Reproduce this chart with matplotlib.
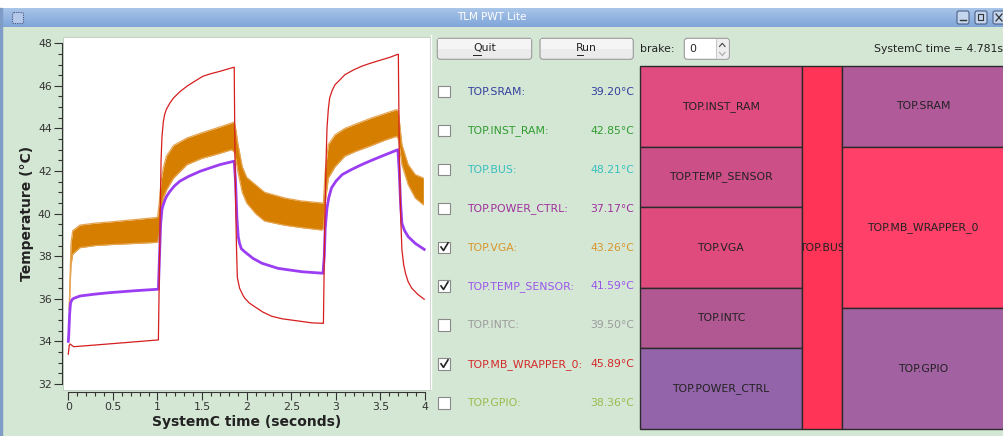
import matplotlib
matplotlib.use("Agg")
import matplotlib.pyplot as plt
import numpy as np
from matplotlib.patches import Rectangle, FancyBboxPatch
from matplotlib.ticker import MultipleLocator, FixedLocator, FixedFormatter

# ---------------- data ----------------
# TOP.MB_WRAPPER_0 (red)
mb_t = [0.0, 0.01, 0.02, 0.06, 0.3, 0.6, 1.01, 1.03, 1.04, 1.05, 1.065, 1.08, 1.10, 1.14, 1.18, 1.25, 1.33, 1.42,
        1.51, 1.60, 1.70, 1.855,
        1.86, 1.87, 1.885, 1.895, 1.92, 1.96, 1.98, 2.03, 2.09, 2.18, 2.28, 2.4, 2.54, 2.73, 2.855,
        2.86, 2.875, 2.89, 2.90, 2.915, 2.93, 2.96, 2.99, 3.05, 3.10, 3.20, 3.29, 3.38, 3.48, 3.6, 3.695,
        3.70, 3.71, 3.725, 3.74, 3.76, 3.78, 3.81, 3.85, 3.92, 3.99]
mb_v = [33.4, 33.8, 33.88, 33.75, 33.83, 33.93, 34.07, 40.0, 42.5, 43.6, 44.3, 44.65, 44.9, 45.2, 45.43, 45.72, 45.98, 46.22,
        46.45, 46.57, 46.68, 46.87,
        46.87, 42.0, 38.5, 37.0, 36.5, 36.15, 36.02, 35.8, 35.63, 35.38, 35.18, 35.06, 34.98, 34.87, 34.85,
        34.85, 39.5, 42.5, 44.0, 44.9, 45.43, 45.8, 46.05, 46.3, 46.52, 46.75, 46.92, 47.05, 47.18, 47.33, 47.48,
        47.48, 43.0, 40.0, 38.3, 37.6, 37.2, 36.8, 36.5, 36.2, 35.98]

# TOP.TEMP_SENSOR (purple)
ts_t = [0.0, 0.005, 0.015, 0.025, 0.04, 0.06, 0.13, 0.3, 0.47, 0.75, 1.01,
        1.02, 1.035, 1.05, 1.065, 1.08, 1.10, 1.14, 1.19, 1.25, 1.35, 1.48, 1.60, 1.70, 1.86,
        1.875, 1.89, 1.905, 1.92, 1.94, 1.98, 2.07, 2.17, 2.35, 2.62, 2.855,
        2.87, 2.88, 2.90, 2.92, 2.95, 3.0, 3.07, 3.18, 3.29, 3.40, 3.51, 3.695,
        3.71, 3.725, 3.74, 3.77, 3.81, 3.89, 3.99]
ts_v = [34.0, 34.3, 35.3, 35.8, 35.95, 36.02, 36.13, 36.22, 36.29, 36.38, 36.45,
        37.7, 39.5, 40.2, 40.42, 40.6, 40.8, 41.05, 41.3, 41.52, 41.75, 41.99, 42.16, 42.30, 42.46,
        41.5, 39.8, 38.92, 38.6, 38.35, 38.2, 37.9, 37.67, 37.43, 37.27, 37.2,
        38.0, 39.3, 40.26, 40.75, 41.2, 41.52, 41.83, 42.08, 42.3, 42.5, 42.69, 43.0,
        42.0, 40.5, 39.54, 39.2, 38.92, 38.6, 38.32]

# TOP.VGA (orange) – oscillating signal, lower/upper envelope
vga_t = [0.01, 0.03, 0.05, 0.13, 0.3, 0.5, 0.75, 1.0, 1.02, 1.04, 1.065, 1.10, 1.18, 1.33, 1.5, 1.65, 1.83,
         1.86, 1.88, 1.90, 1.95, 2.0, 2.1, 2.2, 2.43, 2.6, 2.84, 2.86, 2.88, 2.915, 2.99, 3.1, 3.22,
         3.4, 3.55, 3.68, 3.70, 3.72, 3.74, 3.81, 3.89, 3.98]
vga_hi = [35.5, 38.6, 39.2, 39.46, 39.55, 39.62, 39.72, 39.82, 40.5, 41.5, 42.14, 42.7, 43.2, 43.55, 43.8, 44.0, 44.25,
          44.3, 43.9, 43.3, 42.2, 41.7, 41.35, 41.0, 40.73, 40.6, 40.5, 40.5, 42.0, 43.24, 43.7, 44.0, 44.2,
          44.49, 44.7, 44.88, 44.8, 44.0, 43.24, 42.3, 41.83, 41.67]
vga_lo = [35.5, 37.6, 38.1, 38.4, 38.5, 38.55, 38.6, 38.65, 39.0, 40.0, 40.73, 41.1, 41.67, 42.3, 42.6, 42.77, 43.0,
          42.9, 42.5, 42.0, 41.0, 40.5, 40.0, 39.65, 39.45, 39.35, 39.23, 39.3, 40.5, 41.67, 42.2, 42.7, 42.92,
          43.2, 43.45, 43.63, 43.5, 42.9, 42.3, 41.36, 40.73, 40.42]

x_ticks = [0, 0.5, 1, 1.5, 2, 2.5, 3, 3.5, 4]
x_tick_labels = ["0", "0.5", "1", "1.5", "2", "2.5", "3", "3.5", "4"]
y_ticks = [32, 34, 36, 38, 40, 42, 44, 46, 48]
y_tick_labels = ["32", "34", "36", "38", "40", "42", "44", "46", "48"]

# component list
comp_names = ["TOP.SRAM:", "TOP.INST_RAM:", "TOP.BUS:", "TOP.POWER_CTRL:", "TOP.VGA:",
              "TOP.TEMP_SENSOR:", "TOP.INTC:", "TOP.MB_WRAPPER_0:", "TOP.GPIO:"]
comp_values = ["39.20°C", "42.85°C", "48.21°C", "37.17°C", "43.26°C",
               "41.59°C", "39.50°C", "45.89°C", "38.36°C"]
comp_colors = ["#33409e", "#2f9c2f", "#38c0c0", "#a0309e", "#d8962c",
               "#9a55ec", "#9c9c9c", "#d42a2a", "#9cbb4c"]
comp_checked = [False, False, False, False, True, True, False, True, False]

# treemap cells
tm_names = ["TOP.INST_RAM", "TOP.TEMP_SENSOR", "TOP.VGA", "TOP.INTC", "TOP.POWER_CTRL",
            "TOP.BUS", "TOP.SRAM", "TOP.MB_WRAPPER_0", "TOP.GPIO"]
tm_colors = ["#e04b80", "#cd4f88", "#e04b7e", "#b15792", "#9464aa",
             "#ff3457", "#b05a9a", "#ff4068", "#a261a1"]

# ---------------- layout (pixels) ----------------
W, H = 1004, 436
BG = "#d4e6d4"
FS = 7.8
fig = plt.figure(figsize=(W / 100, H / 100), dpi=100)
bg = fig.add_axes([0, 0, 1, 1])
bg.set_xlim(0, W)
bg.set_ylim(H, 0)
bg.axis("off")

bg.add_patch(Rectangle((0, 0), W, H, color="white", zorder=0))
bg.add_patch(Rectangle((0, 26.7), W, H - 26.7, color=BG, zorder=0))

# title bar gradient
grad = np.linspace(0, 1, 20)[:, None]
c_top = np.array([0.66, 0.77, 0.91])
c_bot = np.array([0.50, 0.65, 0.85])
img = c_top[None, None, :] * (1 - grad[:, :, None]) + c_bot[None, None, :] * grad[:, :, None]
img = np.repeat(img, 2, axis=1)
bg.imshow(img, extent=(0, W, 26.7, 8), aspect="auto", zorder=1, interpolation="bilinear")
bg.text(492, 17.5, "TLM PWT Lite", color="white", fontsize=7.5, ha="center", va="center", zorder=2)
bg.add_patch(Rectangle((0, 8), 2, H - 8, color="#7f9cc6", zorder=2))
bg.add_patch(FancyBboxPatch((12.5, 12.5), 11, 11, boxstyle="round,pad=0,rounding_size=1.5",
                            fc="#b4c9ea", ec="#4a5580", lw=0.8, ls=(0, (1, 1)), zorder=2))
for bx in (957, 975, 993):
    bg.add_patch(FancyBboxPatch((bx, 11), 12, 13, boxstyle="round,pad=0,rounding_size=2",
                                fc="#c4d6ee", ec="#4f5f85", lw=0.8, zorder=2))
bg.plot([960, 966], [20.5, 20.5], color="#333", lw=1, zorder=3)
bg.add_patch(Rectangle((978.5, 14.5), 5, 6, fc="none", ec="#333", lw=0.8, zorder=3))
bg.plot([996, 1002], [14, 21], color="#333", lw=0.9, zorder=3)
bg.plot([996, 1002], [21, 14], color="#333", lw=0.9, zorder=3)

# plot canvas frame and separator
bg.add_patch(Rectangle((63.5, 37.5), 367, 352, fc="white", ec="#c6cfc6", lw=0.7, zorder=1))
bg.plot([431.5, 431.5], [35, 389], color="white", lw=1, zorder=1)

# ---------------- the chart ----------------
x0px, xs = 68.3, 89.2
y0px, ys = 384.0, 21.3
L, R, T, B = 64, 430, 38, 389
ax = fig.add_axes([L / W, (H - B) / H, (R - L) / W, (B - T) / H])
ax.set_xlim((L - x0px) / xs, (R - x0px) / xs)
ax.set_ylim(32 + (y0px - B) / ys, 32 + (y0px - T) / ys)
ax.set_facecolor("white")

ax.fill_between(vga_t, vga_lo, vga_hi, color="#d67e00", lw=0, zorder=2)
ax.plot(vga_t, vga_hi, color="#e6a552", lw=0.9, zorder=2)
ax.plot(vga_t, vga_lo, color="#e6a552", lw=0.9, zorder=2)
ax.plot(ts_t, ts_v, color="#9b3df2", lw=2.0, zorder=3, solid_joinstyle="round")
ax.plot(mb_t, mb_v, color="#d61e1e", lw=0.9, zorder=4)

for s in ("top", "right"):
    ax.spines[s].set_visible(False)
ax.spines["left"].set_position(("outward", 1.5))
ax.spines["bottom"].set_position(("outward", 2.2))
ax.spines["left"].set_bounds(32, 48)
ax.spines["bottom"].set_bounds(0, 4)
for s in ("left", "bottom"):
    ax.spines[s].set_color("#333333")
    ax.spines[s].set_linewidth(0.8)

ax.xaxis.set_major_locator(FixedLocator(x_ticks))
ax.xaxis.set_major_formatter(FixedFormatter(x_tick_labels))
ax.yaxis.set_major_locator(FixedLocator(y_ticks))
ax.yaxis.set_major_formatter(FixedFormatter(y_tick_labels))
ax.xaxis.set_minor_locator(MultipleLocator(0.1))
ax.yaxis.set_minor_locator(MultipleLocator(0.5))
ax.tick_params(which="major", length=5.8, width=0.8, color="#333333", labelsize=7.8,
               labelcolor="#333333", direction="out", pad=1.5)
ax.tick_params(which="minor", length=3, width=0.8, color="#333333", direction="out")

ax.set_xlabel("SystemC time (seconds)", fontsize=10, fontweight="bold", color="#222222")
ax.set_ylabel("Temperature (°C)", fontsize=10, fontweight="bold", color="#222222")
ax.xaxis.set_label_coords((247 - L) / (R - L), (B - 421.7) / (B - T))
ax.yaxis.set_label_coords((27 - L) / (R - L), (B - 213) / (B - T))
ax.xaxis.label.set_va("center")
ax.yaxis.label.set_va("center")

# ---------------- controls ----------------
def button(x0, y0, x1, y1, label, ul_x0, ul_x1):
    bg.add_patch(FancyBboxPatch((x0, y0), x1 - x0, y1 - y0, boxstyle="round,pad=0,rounding_size=3",
                                fc="#ebebeb", ec="#9a9a9a", lw=0.8, zorder=2))
    bg.add_patch(Rectangle((x0 + 1, y0 + 1), x1 - x0 - 2, (y1 - y0) / 2 - 1, fc="#f5f5f5", ec="none", zorder=2))
    bg.text((x0 + x1) / 2, (y0 + y1) / 2 - 0.5, label, fontsize=FS, color="#222", ha="center", va="center", zorder=3)
    bg.plot([ul_x0, ul_x1], [55.5, 55.5], color="#222", lw=0.7, zorder=3)

button(437.3, 38.3, 531.7, 59.3, "Quit", 473.3, 481)
button(540, 38.3, 633.3, 59.3, "Run", 576.7, 583)

bg.text(640, 49, "brake:", fontsize=FS, color="#222", ha="left", va="center", zorder=3)
bg.add_patch(FancyBboxPatch((684.3, 38.3), 45, 21, boxstyle="round,pad=0,rounding_size=3",
                            fc="white", ec="#9a9a9a", lw=0.8, zorder=2))
bg.add_patch(Rectangle((716, 39.3), 12.5, 19, fc="#eeeeee", ec="none", zorder=2))
bg.plot([716, 716], [39.3, 58.3], color="#c0c0c0", lw=0.6, zorder=3)
bg.plot([719.5, 722.3, 725], [46.5, 43.3, 46.5], color="#444", lw=0.8, zorder=3)
bg.plot([719.5, 722.3, 725], [52.3, 55.5, 52.3], color="#aaa", lw=0.8, zorder=3)
bg.text(689, 49, "0", fontsize=FS, color="#222", ha="left", va="center", zorder=3)
bg.text(1003.5, 49, "SystemC time = 4.781s", fontsize=FS, color="#222", ha="right", va="center", zorder=3)

# component list
row0, dy = 91.7, 38.95
for i, (nm, val, col, chk) in enumerate(zip(comp_names, comp_values, comp_colors, comp_checked)):
    yc = row0 + i * dy
    bg.add_patch(Rectangle((438.5, yc - 6), 11.5, 11.5, fc="white", ec="#8a8a8a", lw=0.8, zorder=2))
    if chk:
        bg.plot([441, 443.5, 448], [yc - 0.5, yc + 3, yc - 4.5], color="#222", lw=1.2, zorder=3)
    bg.text(466.7, yc, nm, fontsize=FS, color=col, ha="left", va="center", zorder=3)
    bg.text(634, yc, val, fontsize=FS, color=col, ha="right", va="center", zorder=3)

# treemap geometry (pixel layout)
tm_rects = [(640, 66, 801.7, 146.7), (640, 146.7, 801.7, 207.3), (640, 207.3, 801.7, 288.3),
            (640, 288.3, 801.7, 348.3), (640, 348.3, 801.7, 429.3), (801.7, 66, 842.3, 429.3),
            (842.3, 66, 1004, 146.7), (842.3, 146.7, 1004, 308.3), (842.3, 308.3, 1004, 429.3)]
for nm, col, (a, b, c, d) in zip(tm_names, tm_colors, tm_rects):
    r = Rectangle((a, b), c - a, d - b, fc=col, ec="#2b2b2b", lw=1.0, zorder=2)
    bg.add_patch(r)
    t = bg.text((a + c) / 2, (b + d) / 2, nm, fontsize=FS, color="#222", ha="center", va="center",
                zorder=3, clip_on=True)
    t.set_clip_path(r)

fig.savefig("out.png", dpi=100)
